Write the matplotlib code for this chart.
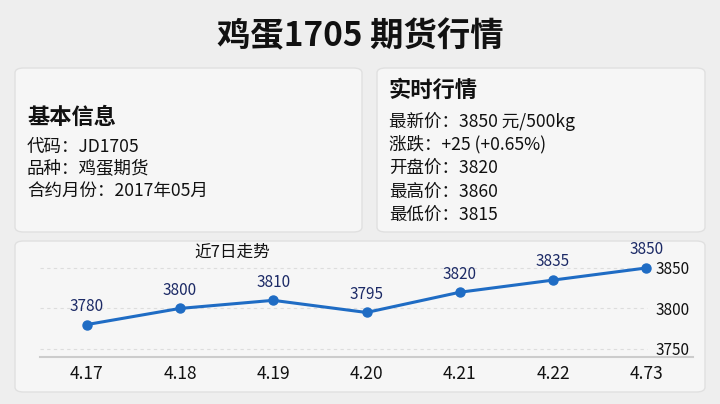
import matplotlib
matplotlib.use("Agg")
import matplotlib.pyplot as plt
from matplotlib.patches import FancyBboxPatch

plt.rcParams['font.family'] = ['Noto Sans CJK SC', 'DejaVu Sans']

# data
days = ["4.17", "4.18", "4.19", "4.20", "4.21", "4.22", "4.73"]
prices = [3780, 3800, 3810, 3795, 3820, 3835, 3850]
y_ticks = [3750, 3800, 3850]

title = "鸡蛋1705 期货行情"
basic_title = "基本信息"
basic_rows = ["代码：JD1705", "品种：鸡蛋期货", "合约月份：2017年05月"]
quote_title = "实时行情"
quote_rows = ["最新价：3850 元/500kg", "涨跌：+25 (+0.65%)", "开盘价：3820",
              "最高价：3860", "最低价：3815"]
chart_title = "近7日走势"

W, H = 720, 404
fig = plt.figure(figsize=(7.2, 4.04), dpi=100)
fig.patch.set_facecolor("#eeeeee")


def px(x, y):
    return x / W, 1 - y / H


def panel(x0, y0, x1, y1):
    fx0, fy1 = px(x0, y0)
    fx1, fy0 = px(x1, y1)
    box = FancyBboxPatch((fx0, fy0), fx1 - fx0, fy1 - fy0,
                         boxstyle="round,pad=0,rounding_size=0.012",
                         transform=fig.transFigure, facecolor="#f6f6f6",
                         edgecolor="#e0e0e0", linewidth=1.0, zorder=-1)
    fig.patches.append(box)


panel(15, 68, 362, 232)
panel(377, 68, 705, 232)
panel(15, 241, 705, 392)

fig.text(*px(360, 37), title, ha="center", va="center", fontsize=24,
         fontweight="bold", color="#111111")

fig.text(*px(27, 117), basic_title, ha="left", va="center", fontsize=16,
         fontweight="bold", color="#111111")
for i, row in enumerate(basic_rows):
    fig.text(*px(27, 147 + i * 22), row, ha="left", va="center",
             fontsize=12.6, color="#111111")

fig.text(*px(389, 90), quote_title, ha="left", va="center", fontsize=16,
         fontweight="bold", color="#111111")
for i, row in enumerate(quote_rows):
    fig.text(*px(389, 121 + i * 23.5), row, ha="left", va="center",
             fontsize=12.6, color="#111111")

fig.text(*px(232, 252), chart_title, ha="center", va="center", fontsize=12,
         color="#111111")

# line chart
l, t = px(40, 255)
r, b = px(693, 357)
ax = fig.add_axes([l, b, r - l, t - b], zorder=2)
ax.set_facecolor("none")
x = list(range(len(days)))
ax.plot(x, prices, color="#1f6cc4", linewidth=2.2, marker="o",
        markersize=6.5, zorder=3)
for xi, p in zip(x, prices):
    ax.annotate(str(p), (xi, p), xytext=(0, 7), textcoords="offset points",
                ha="center", va="bottom", fontsize=11, color="#1c2a66")
ax.set_xlim(-0.5, len(days) - 0.5)
ax.set_ylim(3740, 3866)
ax.set_xticks(x)
ax.set_xticklabels(days, fontsize=12.5, color="#111111")
ax.set_yticks(y_ticks)
ax.set_yticklabels([str(v) for v in y_ticks], fontsize=11, color="#111111")
ax.yaxis.tick_right()
ax.tick_params(axis="y", length=0, pad=-27)
ax.tick_params(axis="x", length=0, pad=6)
for v in y_ticks:
    ax.axhline(v, xmin=0, xmax=0.93, color="#dddddd", linestyle=(0, (3, 3)),
               linewidth=0.8, zorder=1)
for s in ["top", "left", "right"]:
    ax.spines[s].set_visible(False)
ax.spines["bottom"].set_color("#cccccc")
ax.spines["bottom"].set_linewidth(1.5)

fig.savefig("out.png", dpi=100, facecolor=fig.get_facecolor())
